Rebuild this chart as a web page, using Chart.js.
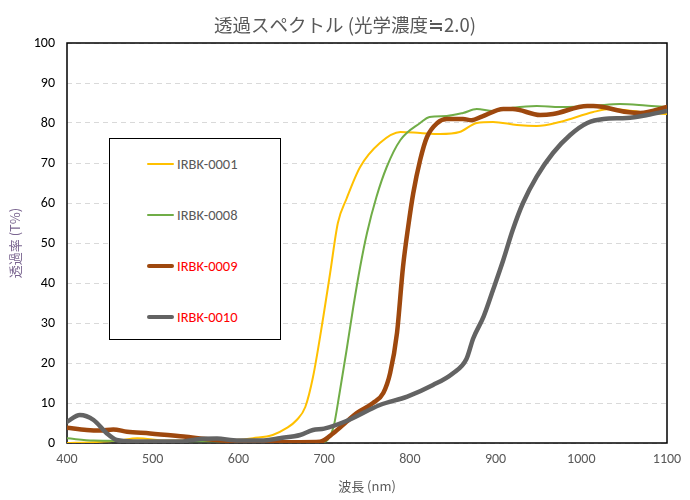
<!DOCTYPE html>
<html>
<head>
<meta charset="utf-8">
<script src="https://cdn.jsdelivr.net/npm/chart.js@4/dist/chart.umd.min.js"></script>
<style>
  html, body { margin: 0; padding: 0; background: #fff; }
  #wrap { position: relative; width: 690px; height: 500px; }
  #legend {
    position: absolute; left: 109px; top: 138px; width: 172px; height: 202px;
    box-sizing: border-box; border: 1px solid #000; background: #fff;
    font-family: Calibri, "Noto Sans", sans-serif; font-size: 14.5px;
  }
  .item { position: absolute; left: 0; height: 20px; width: 170px; }
  .swatch { position: absolute; left: 37px; width: 27px; border-radius: 3px; }
  .lbl { position: absolute; left: 67px; top: 0; line-height: 20px; white-space: nowrap; }
</style>
</head>
<body>
<div id="wrap">
  <canvas id="c" width="690" height="500"></canvas>
  <div id="legend"></div>
</div>
<script>
// ---- data (wavelength nm / transmittance %) ----
const seriesNames = ["IRBK-0001", "IRBK-0008", "IRBK-0009", "IRBK-0010"];

const wl0001 = [400,430,460,482,517,565,600,617,640,656,668,678,687,699,707,716,726,742,765,789,812,835,858,878,897,925,948,975,1014,1034,1060,1080,1100];
const t0001  = [0,0.2,0.6,1.2,0.6,0.7,0.8,1.2,2,3.7,5.75,9,16.5,31.5,42.5,55,61,69,75,77.75,77.5,77.25,77.75,80,80.25,79.5,79.25,80.25,82.75,83.5,83,82.5,82.25];

const wl0008 = [400,431,500,600,700,704,711,718,726,734,742,750,761,773,789,812,823,843,862,878,897,920,948,975,1014,1045,1075,1100];
const t0008  = [1.2,0.6,0.5,0.4,0.3,0.75,4,12.5,23,34,44,52.5,61.5,69,75.75,80,81.5,81.75,82.5,83.5,83,83.8,84.25,84,84.25,84.75,84.4,84];

const wl0009 = [400,423,438,454,470,497,536,575,614,672,695,711,726,738,757,769,777,785,792,798,804,812,820,832,843,862,872,884,909,920,952,967,1007,1014,1053,1069,1100];
const t0009  = [3.8,3.25,3.1,3.4,2.8,2.4,1.6,0.75,0.3,0.2,0.3,2.5,5.3,7.5,10,12.5,17.5,27.5,44,54,62.5,70.75,76.5,80,81,81,80.7,81.6,83.5,83.5,82,82.25,84.25,84.25,82.75,82.5,84];

const wl0010 = [400,415,431,446,458,477,532,555,575,594,614,633,648,672,687,700,726,765,797,827,850,866,874,886,897,909,920,932,948,967,987,1007,1026,1053,1077,1100];
const t0010  = [5.3,7,5.75,2.5,0.75,0.4,0.4,1,1.1,0.7,0.6,0.7,1.2,2,3.25,3.6,5.5,9.5,11.6,14.5,17.4,21,26.2,31.6,38.25,45.75,53.25,60,66.6,72.5,77,80,81,81.25,82,83];

const xTicks = [400,500,600,700,800,900,1000,1100];
const yTicks = [0,10,20,30,40,50,60,70,80,90,100];

// ---- styles ----
const colors = ["#FFC000", "#70AD47", "#9E480E", "#636363"];
const widths = [2, 2, 4.5, 4.5];
const labelColors = ["#595959", "#595959", "#FF0000", "#FF0000"];

const toPts = (xs, ys) => xs.map((x, i) => ({ x: x, y: ys[i] }));
const allX = [wl0001, wl0008, wl0009, wl0010];
const allY = [t0001, t0008, t0009, t0010];

const datasets = seriesNames.map((n, i) => ({
  label: n,
  data: toPts(allX[i], allY[i]),
  borderColor: colors[i],
  backgroundColor: colors[i],
  borderWidth: widths[i],
  pointRadius: 0,
  cubicInterpolationMode: 'monotone',
  borderCapStyle: 'round',
  borderJoinStyle: 'round',
  order: 4 - i
}));

const framePlugin = {
  id: 'frame',
  beforeDatasetsDraw(chart) {
    const a = chart.chartArea, ctx = chart.ctx;
    ctx.save();
    ctx.strokeStyle = '#000';
    ctx.lineWidth = 1.5;
    ctx.strokeRect(a.left, a.top, a.right - a.left, a.bottom - a.top);
    ctx.restore();
  }
};

const baseFont = 'Calibri, "Noto Sans", sans-serif';
new Chart(document.getElementById('c'), {
  type: 'line',
  data: { datasets },
  options: {
    responsive: false,
    animation: false,
    layout: { padding: 0 },
    plugins: {
      legend: { display: false },
      tooltip: { enabled: false },
      title: {
        display: true,
        text: '透過スペクトル (光学濃度≒2.0)',
        color: '#595959',
        font: { family: '"Noto Sans CJK JP", sans-serif', size: 18.5, weight: 'normal' },
        padding: { top: 14, bottom: 6.8 }
      }
    },
    scales: {
      x: {
        type: 'linear', min: 400, max: 1100,
        afterBuildTicks: s => { s.ticks = xTicks.map(v => ({ value: v })); },
        ticks: { color: '#595959', font: { family: baseFont, size: 14 }, padding: 8, maxRotation: 0,
                 callback: v => String(v) },
        grid: { display: false, drawTicks: false },
        border: { display: false },
        title: {
          display: true, text: '波長 (nm)', color: '#595959',
          font: { family: '"Noto Sans CJK JP", sans-serif', size: 13 },
          padding: { top: 0, bottom: 6 }
        },
        afterFit: s => { s.height = 57; }
      },
      y: {
        min: 0, max: 100,
        afterBuildTicks: s => { s.ticks = yTicks.map(v => ({ value: v })); },
        ticks: { color: '#000', font: { family: baseFont, size: 14 }, padding: 12,
                 callback: v => String(v) },
        grid: { color: '#d9d9d9', lineWidth: 1, drawTicks: false },
        border: { display: false, dash: [5, 4] },
        title: {
          display: true, text: '透過率 (T%)', color: '#7a6590',
          font: { family: '"Noto Sans CJK JP", sans-serif', size: 13 },
          padding: { top: 7, bottom: 0 }
        },
        afterFit: s => { s.width = 67; }
      },
      yRightSpace: {
        type: 'linear', position: 'right', display: true,
        grid: { display: false, drawTicks: false },
        border: { display: false },
        ticks: { display: false },
        afterFit: s => { s.width = 23; }
      }
    }
  },
  plugins: [framePlugin]
});

// ---- legend (HTML, real text) ----
const lg = document.getElementById('legend');
const itemTops = [15, 66, 117, 168];
seriesNames.forEach((n, i) => {
  const it = document.createElement('div');
  it.className = 'item';
  it.style.top = itemTops[i] + 'px';
  const sw = document.createElement('div');
  sw.className = 'swatch';
  sw.style.background = colors[i];
  sw.style.height = widths[i] + 'px';
  sw.style.top = (10 - widths[i] / 2) + 'px';
  const tx = document.createElement('div');
  tx.className = 'lbl';
  tx.style.color = labelColors[i];
  tx.textContent = n;
  it.appendChild(sw); it.appendChild(tx);
  lg.appendChild(it);
});
</script>
</body>
</html>
